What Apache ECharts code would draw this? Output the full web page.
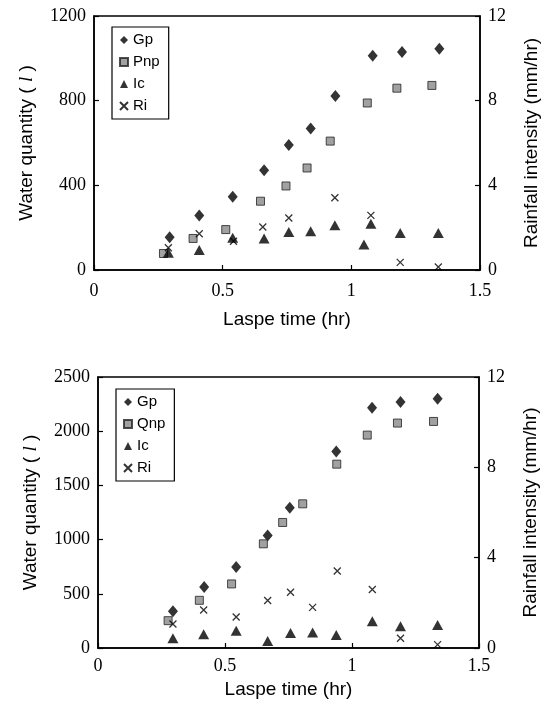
<!DOCTYPE html>
<html>
<head>
<meta charset="utf-8">
<script src="https://cdn.jsdelivr.net/npm/echarts@6/dist/echarts.min.js"></script>
<style>html,body{margin:0;padding:0;background:#fff}#c{width:553px;height:708px}</style>
</head>
<body>
<div id="c"></div>
<script>
// ---- Top chart data ----
const gpTopX  = [0.294,0.409,0.539,0.661,0.757,0.842,0.938,1.083,1.197,1.342];
const gpTopY  = [155,258,346,471,590,668,822,1012,1030,1045];
const pnpTopX = [0.270,0.385,0.512,0.647,0.746,0.828,0.918,1.062,1.177,1.313];
const pnpTopY = [78,149,191,325,397,482,609,789,859,872];
const icTopX  = [0.289,0.409,0.539,0.661,0.757,0.842,0.936,1.049,1.076,1.190,1.338];
const icTopY  = [81,94,152,149,180,183,211,120,219,175,175];
const riTopX  = [0.289,0.409,0.542,0.656,0.757,0.936,1.076,1.190,1.338];
const riTopY  = [1.05,1.71,1.36,2.03,2.46,3.41,2.58,0.36,0.14];
// ---- Bottom chart data ----
const gpBotX  = [0.295,0.418,0.544,0.668,0.755,0.938,1.079,1.191,1.337];
const gpBotY  = [339,563,748,1038,1293,1813,2217,2269,2300];
const qnpBotX = [0.276,0.399,0.526,0.651,0.727,0.806,0.940,1.060,1.179,1.321];
const qnpBotY = [252,440,591,961,1158,1330,1696,1964,2075,2090];
const icBotX  = [0.295,0.416,0.544,0.668,0.758,0.845,0.938,1.080,1.191,1.337];
const icBotY  = [89,126,160,65,139,142,120,246,200,212];
const riBotX  = [0.295,0.416,0.544,0.668,0.758,0.845,0.942,1.080,1.191,1.337];
const riBotY  = [1.06,1.68,1.37,2.10,2.47,1.80,3.41,2.59,0.43,0.15];
// ---- Axis ranges / labels ----
const legendTop = ['Gp','Pnp','Ic','Ri'];
const legendBot = ['Gp','Qnp','Ic','Ri'];
const xTitle = 'Laspe time (hr)';
const yLeftTitle = 'Water quantity ( {i|l} )';
const yRightTitle = 'Rainfall intensity (mm/hr)';

const zip = (xs, ys) => xs.map((x, i) => [x, ys[i]]);
const serif = 'Liberation Serif';
const sans = 'Liberation Sans';
const axisLine = {show: true, lineStyle: {color: '#000', width: 1.5}};
const tick = {show: true, inside: true, length: 5, lineStyle: {color: '#000', width: 1.2}};
const plain = v => String(v);

function xAx(grid, gapLabel, gapName) {
  return {type: 'value', gridIndex: grid, min: 0, max: 1.5, interval: 0.5,
    axisLine, axisTick: tick, splitLine: {show: false},
    axisLabel: {fontFamily: serif, fontSize: 18, color: '#000', margin: gapLabel, formatter: plain},
    name: xTitle, nameLocation: 'middle', nameGap: gapName,
    nameTextStyle: {fontFamily: sans, fontSize: 19, color: '#000'}};
}
function yAx(grid, pos, max, interval, name, gapName) {
  return {type: 'value', gridIndex: grid, position: pos, min: 0, max, interval,
    axisLine, axisTick: tick, splitLine: {show: false},
    axisLabel: {fontFamily: serif, fontSize: 18, color: '#000', margin: 8, formatter: plain},
    name, nameLocation: 'middle', nameGap: gapName,
    nameTextStyle: {fontFamily: sans, fontSize: 19, color: '#000',
      rich: {i: {fontFamily: serif, fontStyle: 'italic', fontSize: 19, color: '#000'}}}};
}
const gpStyle = {symbol: 'diamond', symbolSize: [10, 12], itemStyle: {color: '#000'}};
const npStyle = {symbol: 'rect', symbolSize: 8, itemStyle: {color: '#8a8a8a', borderColor: '#222', borderWidth: 1}};
const icStyle = {symbol: 'triangle', symbolSize: [11, 10], itemStyle: {color: '#000'}};
const riStyle = {symbol: 'path://M0,0L10,10M10,0L0,10', symbolSize: 7,
  itemStyle: {color: 'rgba(0,0,0,0)', borderColor: '#000', borderWidth: 1.3}};

function sc(name, xi, yi, data, st) {
  return Object.assign({type: 'scatter', name, xAxisIndex: xi, yAxisIndex: yi, data,
    emphasis: {disabled: true}, z: 3}, st);
}
function leg(data, left, top) {
  return {data, orient: 'vertical', left, top, itemWidth: 8, itemHeight: 8, itemGap: 6,
    itemTextGap: 5, padding: [5, 9, 5, 7], borderColor: '#000', borderWidth: 1.2,
    backgroundColor: '#fff', selectedMode: false,
    textStyle: {fontFamily: sans, fontSize: 15, color: '#000', lineHeight: 16}};
}

const chart = echarts.init(document.getElementById('c'), null, {renderer: 'canvas'});
chart.setOption({
  animation: false,
  backgroundColor: '#fff',
  grid: [
    {left: 94, top: 16, width: 386, height: 254, show: true, borderColor: '#000', borderWidth: 1.5, backgroundColor: 'transparent'},
    {left: 98, top: 377, width: 381, height: 271, show: true, borderColor: '#000', borderWidth: 1.5, backgroundColor: 'transparent'}
  ],
  xAxis: [xAx(0, 12, 40), xAx(1, 9, 32)],
  yAxis: [
    yAx(0, 'left', 1200, 400, yLeftTitle, 58),
    yAx(0, 'right', 12, 4, yRightTitle, 42),
    yAx(1, 'left', 2500, 500, yLeftTitle, 58),
    yAx(1, 'right', 12, 4, yRightTitle, 42)
  ],
  legend: [leg(legendTop, 112, 27), leg(legendBot, 116, 389)],
  series: [
    sc('Gp', 0, 0, zip(gpTopX, gpTopY), gpStyle),
    sc('Pnp', 0, 0, zip(pnpTopX, pnpTopY), npStyle),
    sc('Ic', 0, 0, zip(icTopX, icTopY), icStyle),
    sc('Ri', 0, 1, zip(riTopX, riTopY), riStyle),
    sc('Gp', 1, 2, zip(gpBotX, gpBotY), gpStyle),
    sc('Qnp', 1, 2, zip(qnpBotX, qnpBotY), npStyle),
    sc('Ic', 1, 2, zip(icBotX, icBotY), icStyle),
    sc('Ri', 1, 3, zip(riBotX, riBotY), riStyle)
  ]
});
</script>
</body>
</html>
